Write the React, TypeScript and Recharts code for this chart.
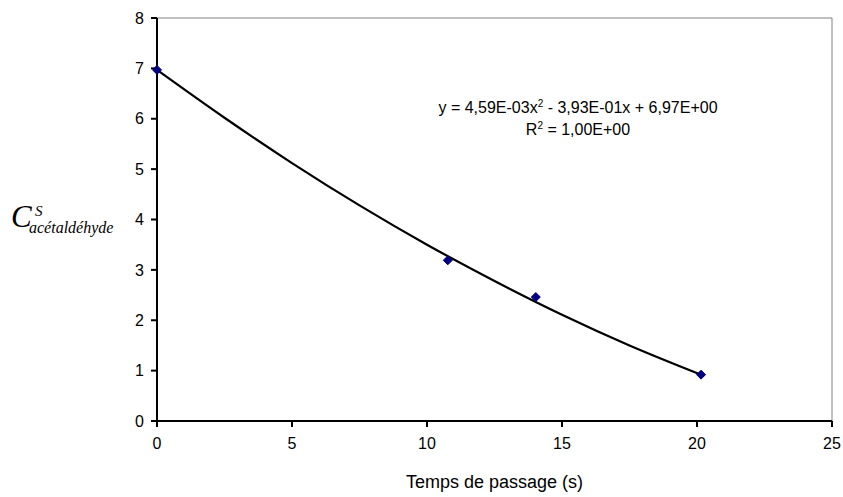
import React from 'react';
import { ComposedChart, Line, Scatter, XAxis, YAxis, ReferenceLine } from 'recharts';

// measured points
const times = [0, 10.77, 14.03, 20.15];
const concentrations = [6.97, 3.19, 2.46, 0.92];
// polynomial trend line
const trendTimes = [0, 2.5, 5, 7.5, 10, 12.5, 15, 17.5, 20.15];
const trendValues = [6.97, 6.02, 5.12, 4.28, 3.5, 2.78, 2.11, 1.5, 0.92];
const xTicks = [0, 5, 10, 15, 20, 25];
const yTicks = [0, 1, 2, 3, 4, 5, 6, 7, 8];
const equationText = 'y = 4,59E-03x';
const equationRest = ' - 3,93E-01x + 6,97E+00';
const r2Text = ' = 1,00E+00';
const xTitle = 'Temps de passage (s)';

const points = times.map((t, i) => ({ x: t, y: concentrations[i] }));
const trend = trendTimes.map((t, i) => ({ x: t, y: trendValues[i] }));

const SANS = '"Liberation Sans", Arial, sans-serif';
const SERIF = '"Liberation Serif", "Times New Roman", serif';

const Diamond = (props: any) => {
  const { cx, cy } = props;
  if (cx == null || cy == null) return null;
  const r = 4.5;
  return (
    <polygon
      points={`${cx},${cy - r} ${cx + r},${cy} ${cx},${cy + r} ${cx - r},${cy}`}
      fill="#000080"
      stroke="#000080"
      strokeWidth={1}
    />
  );
};

const YTitle = () => (
  <g>
    <text x={11} y={227} fontFamily={SERIF} fontStyle="italic" fontSize={31} fill="#000">C</text>
    <text x={35} y={216} fontFamily={SERIF} fontStyle="italic" fontSize={15} fill="#000">S</text>
    <text x={29} y={233} fontFamily={SERIF} fontStyle="italic" fontSize={16} fill="#000">acétaldéhyde</text>
  </g>
);

const Equation = () => (
  <g fontFamily={SANS} fill="#000">
    <text x={578} y={113} textAnchor="middle" fontSize={16}>
      <tspan>{equationText}</tspan>
      <tspan dy={-6} fontSize={10}>2</tspan>
      <tspan dy={6}>{equationRest}</tspan>
    </text>
    <text x={578} y={135} textAnchor="middle" fontSize={16}>
      <tspan>R</tspan>
      <tspan dy={-6} fontSize={10}>2</tspan>
      <tspan dy={6}>{r2Text}</tspan>
    </text>
  </g>
);

export default function App() {
  return (
    <div style={{ position: 'absolute', left: 0, top: 0, width: 843, height: 497, background: '#fff' }}>
      <ComposedChart
        width={843}
        height={497}
        margin={{ top: 18, right: 11, bottom: 0, left: 0 }}
      >
        <ReferenceLine y={8} stroke="#808080" strokeWidth={1} />
        <ReferenceLine x={25} stroke="#808080" strokeWidth={1} />
        <XAxis
          dataKey="x"
          type="number"
          domain={[0, 25]}
          ticks={xTicks}
          allowDuplicatedCategory={false}
          height={76}
          stroke="#000"
          strokeWidth={2}
          tickSize={6}
          tickMargin={11}
          tick={{ fill: '#000', fontSize: 16, fontFamily: SANS }}
          label={{ value: xTitle, position: 'insideBottom', offset: 9, fill: '#000', fontSize: 18, fontFamily: SANS }}
        />
        <YAxis
          type="number"
          domain={[0, 8]}
          ticks={yTicks}
          width={157}
          stroke="#000"
          strokeWidth={2}
          tickSize={6}
          tickMargin={7}
          tick={{ fill: '#000', fontSize: 16, fontFamily: SANS }}
        />
        <Line
          data={trend}
          dataKey="y"
          type="monotone"
          stroke="#000"
          strokeWidth={2.2}
          dot={false}
          activeDot={false}
          isAnimationActive={false}
        />
        <Scatter data={points} dataKey="y" fill="#000080" shape={<Diamond />} isAnimationActive={false} />
        <YTitle />
        <Equation />
      </ComposedChart>
    </div>
  );
}
